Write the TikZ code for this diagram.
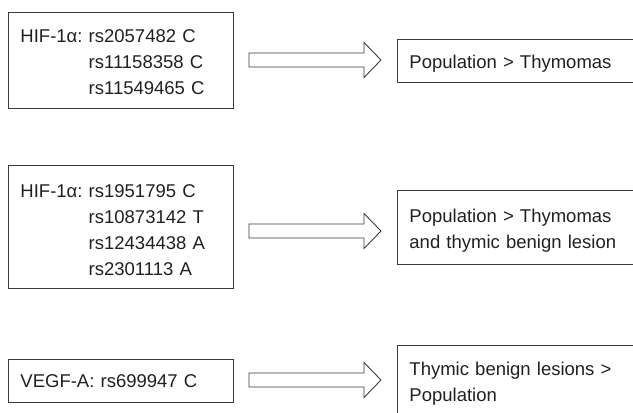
\documentclass[tikz,border=0pt]{standalone}
\usepackage{fontspec}
\setmainfont{Liberation Sans}
\usetikzlibrary{calc,positioning}
\definecolor{lineGrey}{HTML}{3A3A3A}
\definecolor{textGrey}{HTML}{231F20}
\newcommand{\lowered}[2][3pt]{\raisebox{-#1}[\height][\depth]{#2}}

\begin{document}
\begin{tikzpicture}[x=1pt,y=-1pt]
	\tikzstyle{snpbox} = [anchor=west, draw=lineGrey, line width=0.9pt, text=textGrey, text width=201pt, inner xsep=12pt, inner ysep=0pt, align=left, font=\fontsize{18.5}{26}\selectfont]
	\tikzstyle{resbox} = [snpbox, text width=260pt]
	\tikzstyle{fat} = [draw=lineGrey, line width=0.9pt, to path={($(\tikztostart)+(0,-7)$) -- ($(\tikztotarget)+(-17,-7)$) -- ($(\tikztotarget)+(-17,-17.5)$) -- (\tikztotarget) -- ($(\tikztotarget)+(-17,17.5)$) -- ($(\tikztotarget)+(-17,7)$) -- ($(\tikztostart)+(0,7)$) -- cycle}]
	\useasboundingbox (0,0) rectangle (633,413);
	\clip (0,0) rectangle (633,413);
	
	\node [snpbox, minimum height=96pt] (g1) at (8,60) {\lowered{\begin{tabular}{@{}l@{\ }l@{}}HIF-1α: & rs2057482 C\\ & rs11158358 C\\ & rs11549465 C\end{tabular}}};
	\node [snpbox, minimum height=123pt] (g2) at (8,226.5) {\lowered[5pt]{\begin{tabular}{@{}l@{\ }l@{}}HIF-1α: & rs1951795 C\\ & rs10873142 T\\ & rs12434438 A\\ & rs2301113 A\end{tabular}}};
	\node [snpbox, minimum height=43pt] (g3) at (8,380.5) {\lowered[1pt]{VEGF-A: rs699947 C}};
	
	\node [resbox, minimum height=43pt] (r1) at (397,60.5) {\lowered{Population > Thymomas}};
	\node [resbox, minimum height=74pt] (r2) at (397,227) {\lowered{\begin{tabular}{@{}l@{}}Population > Thymomas\\and thymic benign lesion\end{tabular}}};
	\node [resbox, minimum height=73pt] (r3) at (397,381.5) {\lowered[2pt]{\begin{tabular}{@{}l@{}}Thymic benign lesions >\\Population\end{tabular}}};
	
	\coordinate (a1s) at (249,60);
	\coordinate (a1e) at (381,60);
	\coordinate (a2s) at (249,231);
	\coordinate (a2e) at (381,231);
	\coordinate (a3s) at (249,380);
	\coordinate (a3e) at (381,380);
	
	\draw [fat] (a1s) to (a1e);
	\draw [fat] (a2s) to (a2e);
	\draw [fat] (a3s) to (a3e);
\end{tikzpicture}
\end{document}
